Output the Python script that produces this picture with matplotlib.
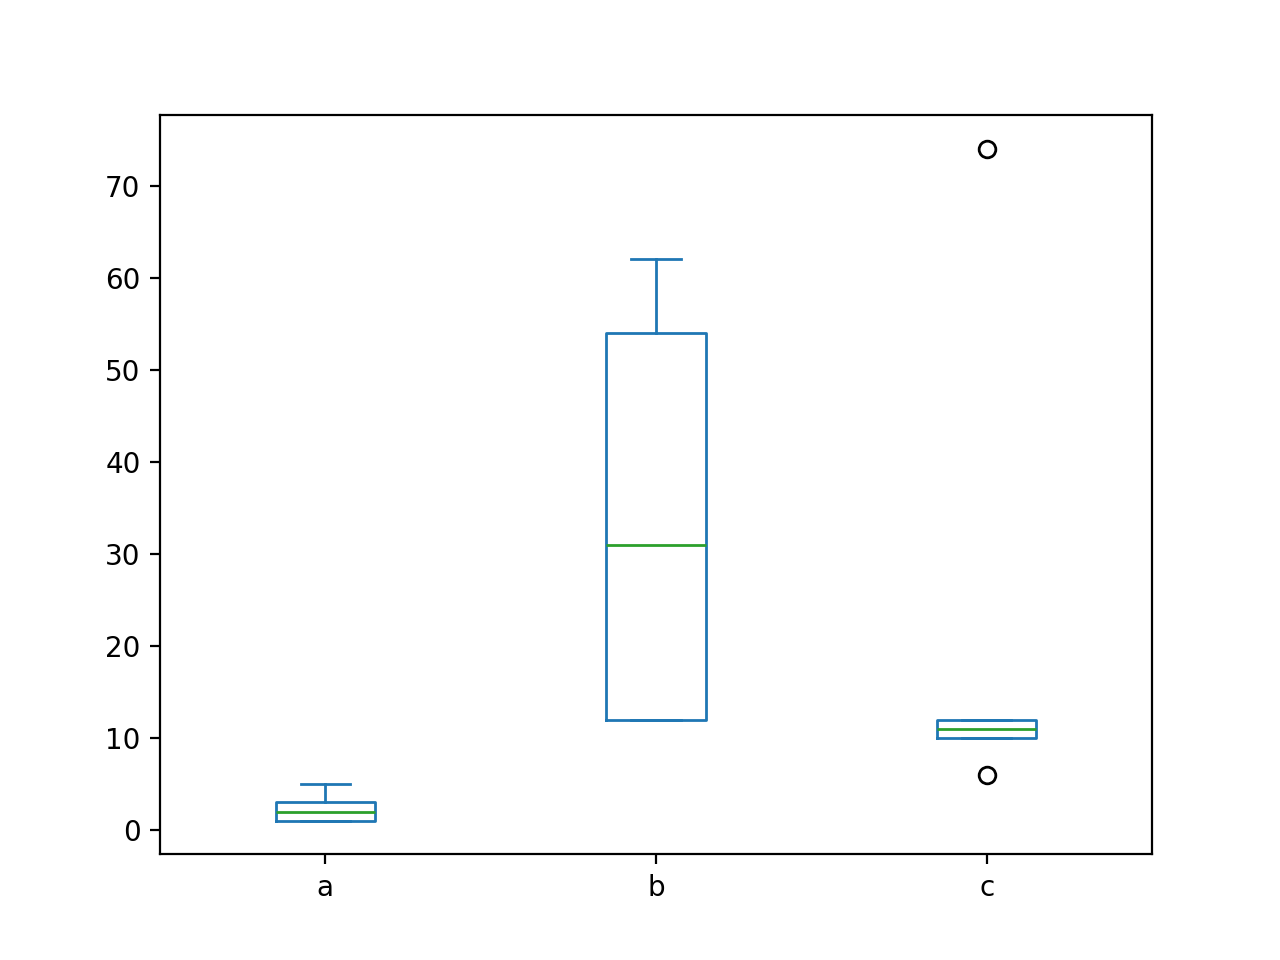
import matplotlib

matplotlib.use("Agg")
import matplotlib.pyplot as plt
import pandas as pd

a_values = [1, 1, 2, 3, 5]
b_values = [12, 12, 31, 54, 62]
c_values = [6, 10, 11, 12, 74]

frame = pd.DataFrame({"a": a_values, "b": b_values, "c": c_values})

figure, axis = plt.subplots(figsize=(6.4, 4.8))
frame.plot.box(ax=axis)
figure.savefig("out.png", dpi=200)
plt.close(figure)
